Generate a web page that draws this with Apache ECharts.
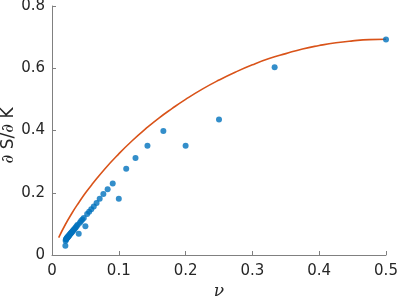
<!DOCTYPE html>
<html><head><meta charset="utf-8">
<script src="https://cdn.jsdelivr.net/npm/echarts@6/dist/echarts.min.js"></script>
<style>html,body{margin:0;padding:0;background:#fff}#c{width:399px;height:300px}</style>
</head><body><div id="c"></div>
<script>
// Scatter points (nu, dS/dK)
const nuPoints = [0.5,0.3333,0.25,0.2,0.1667,0.1429,0.125,0.1111,0.1,0.0909,0.0833,0.0769,0.0714,0.0667,0.0625,0.0588,0.0556,0.0526,0.05,0.0476,0.0455,0.0435,0.0417,0.04,0.0385,0.037,0.0357,0.0345,0.0333,0.0323,0.0313,0.0303,0.0294,0.0286,0.0278,0.027,0.0263,0.0256,0.025,0.0244,0.0238,0.0233,0.0227,0.0222,0.0217,0.0213,0.0208,0.0204,0.02];
const dsdkPoints = [0.692,0.603,0.435,0.351,0.398,0.351,0.312,0.277,0.181,0.230,0.211,0.196,0.181,0.167,0.156,0.147,0.139,0.132,0.092,0.119,0.114,0.109,0.104,0.068,0.097,0.093,0.089,0.086,0.083,0.080,0.078,0.075,0.073,0.071,0.069,0.067,0.065,0.063,0.061,0.060,0.058,0.057,0.056,0.054,0.053,0.051,0.050,0.046,0.030];
// Reference curve samples
const nuCurve = [0.01,0.02,0.03,0.04,0.05,0.06,0.08,0.10,0.12,0.14,0.16,0.18,0.20,0.225,0.25,0.275,0.30,0.325,0.35,0.375,0.40,0.425,0.45,0.475,0.50];
const dsdkCurve = [0.056,0.098,0.135,0.168,0.199,0.227,0.279,0.325,0.367,0.405,0.440,0.471,0.500,0.533,0.562,0.588,0.611,0.631,0.647,0.662,0.673,0.682,0.688,0.692,0.693];
const xTicks = [0,0.1,0.2,0.3,0.4,0.5];
const yTicks = [0,0.2,0.4,0.6,0.8];

const chart = echarts.init(document.getElementById('c'), null, {renderer:'canvas'});
const labelFont = {color:'#262626', fontSize:15, fontFamily:'DejaVu Sans'};
const axisLineStyle = {color:'#808080', width:1};
chart.setOption({
  animation:false,
  grid:{left:52, right:13, top:6, bottom:45, containLabel:false, outerBoundsMode:'none'},
  xAxis:{
    type:'value', min:xTicks[0], max:xTicks[xTicks.length-1], interval:0.1,
    axisLine:{show:true, lineStyle:axisLineStyle},
    axisTick:{show:true, inside:true, length:4, lineStyle:axisLineStyle},
    axisLabel:Object.assign({margin:9}, labelFont),
    splitLine:{show:false},
    name:'ν', nameLocation:'middle', nameGap:28, nameMoveOverlap:false,
    nameTextStyle:{fontFamily:'DejaVu Serif', fontStyle:'italic', fontSize:17, color:'#262626'}
  },
  yAxis:{
    type:'value', min:yTicks[0], max:yTicks[yTicks.length-1], interval:0.2,
    axisLine:{show:true, lineStyle:axisLineStyle},
    axisTick:{show:true, inside:true, length:4, lineStyle:axisLineStyle},
    axisLabel:Object.assign({margin:7}, labelFont),
    splitLine:{show:false},
    name:'{d|∂} S/{d|∂} K', nameLocation:'middle', nameGap:35, nameMoveOverlap:false,
    nameTextStyle:{fontFamily:'DejaVu Sans', fontSize:17, color:'#262626', padding:[0,10,0,0],
      rich:{d:{fontFamily:'DejaVu Serif', fontStyle:'italic', fontSize:17, color:'#262626'}}}
  },
  series:[
    {type:'line', data:nuCurve.map((x,i)=>[x,dsdkCurve[i]]), smooth:true, symbol:'none',
     lineStyle:{color:'#D95319', width:1.6}, z:2},
    {type:'scatter', data:nuPoints.map((x,i)=>[x,dsdkPoints[i]]), symbol:'circle', symbolSize:6,
     itemStyle:{color:'#0072BD'}, z:3}
  ]
});
</script></body></html>
